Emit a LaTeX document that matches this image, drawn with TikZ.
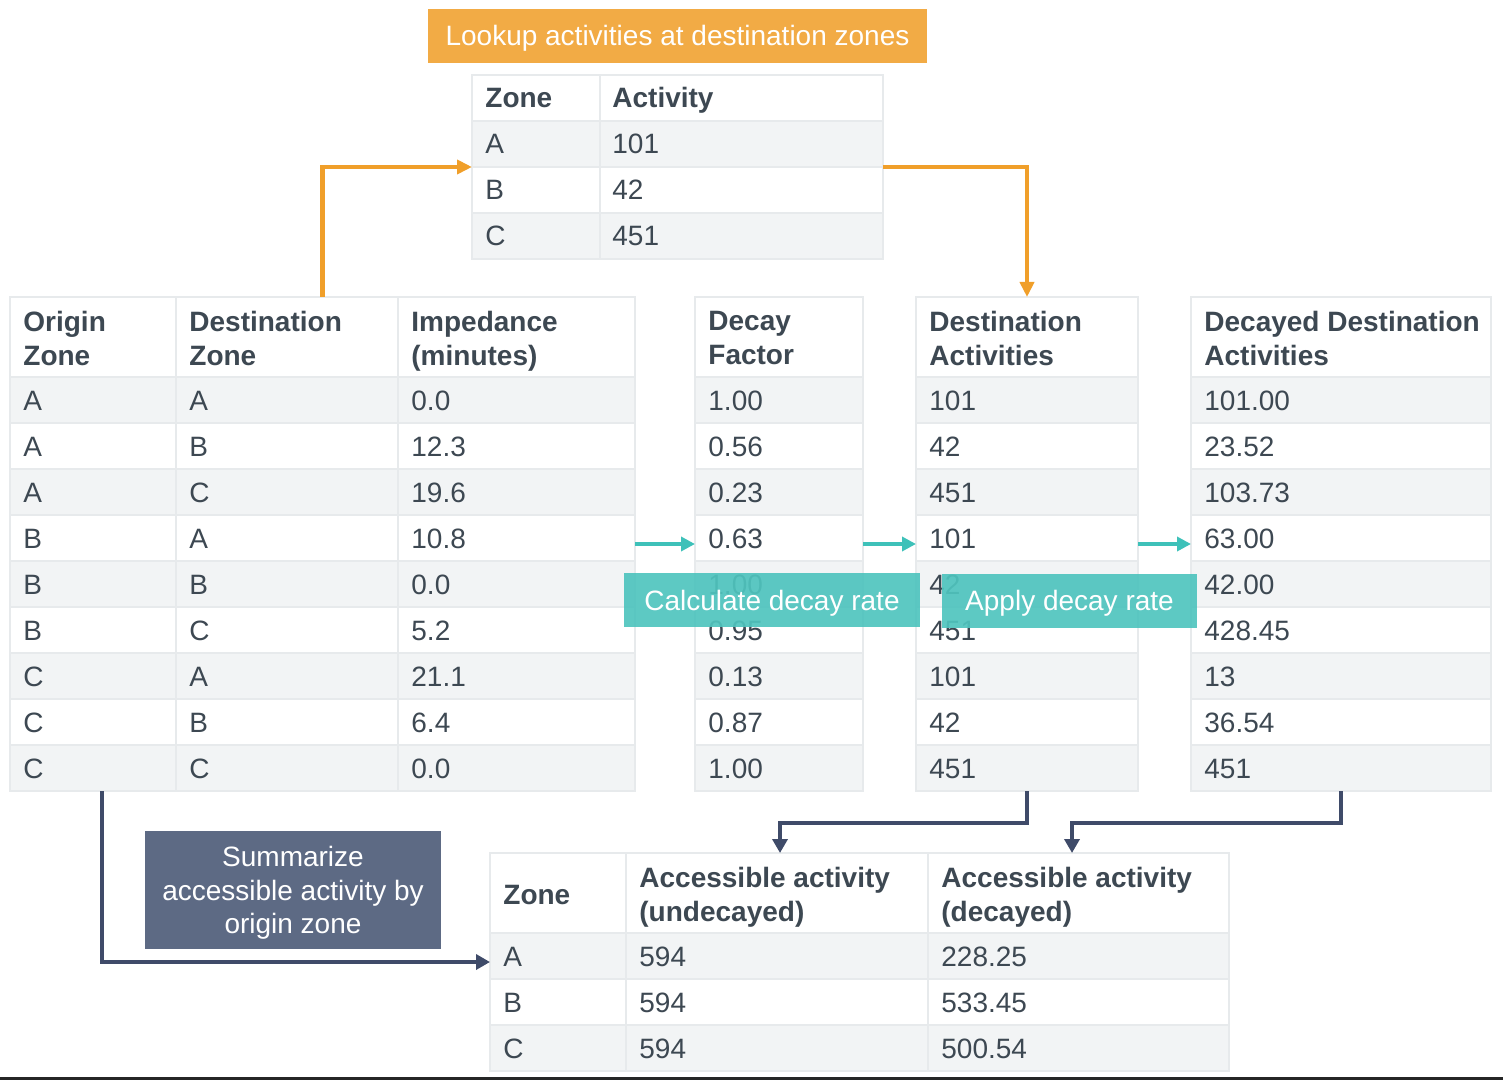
\documentclass[tikz,border=0pt]{standalone}
\usepackage{fontspec}
\setmainfont{Liberation Sans}
\usetikzlibrary{positioning,arrows.meta}

\definecolor{inkgray}{HTML}{3D4852}
\definecolor{rowgray}{HTML}{F2F4F5}
\definecolor{linegray}{HTML}{E7EAEC}
\definecolor{lookuporange}{HTML}{F2AB45}
\definecolor{arroworange}{HTML}{F09F2A}
\definecolor{decayteal}{HTML}{4FC4BE}
\definecolor{arrowteal}{HTML}{3EC1B9}
\definecolor{slatebox}{HTML}{5D6A84}
\definecolor{arrowslate}{HTML}{3F4B69}

% zebra table: name, left, top, right, header height, rows
\newcommand{\datatable}[6]{%
  \foreach \rw in {1,...,#6} {
    \pgfmathtruncatemacro{\isodd}{mod(\rw,2)}
    \ifnum\isodd=1
      \fill[rowgray] (#2,#3+#5+46*\rw-46) rectangle (#4,#3+#5+46*\rw);
    \fi
    \draw[gridline] (#2,#3+#5+46*\rw-46) -- (#4,#3+#5+46*\rw-46);
  }
  \node[tabframe, anchor=north west, minimum width={(#4-#2)*0.5pt},
        minimum height={(#5+46*#6)*0.5pt}] (#1) at (#2,#3) {};
}

\begin{document}
\begin{tikzpicture}[x=0.5pt, y=-0.5pt,
                gridline/.style={draw=linegray, line width=0.6pt},
                tabframe/.style={draw=linegray, line width=0.6pt,
                                 inner sep=0pt, outer sep=0pt},
                txt/.style={text=inkgray, font=\fontsize{14}{17}\selectfont,
                            anchor=west, inner sep=0pt,
                            text height=10pt, text depth=0pt},
                bold/.style={font=\fontsize{14}{17}\selectfont\bfseries},
                hdr/.style={text=inkgray, font=\fontsize{14}{17}\selectfont\bfseries,
                            anchor=north west, inner sep=0pt, align=left},
                lookupbox/.style={fill=lookuporange, text=white, inner sep=0pt,
                                  minimum width=249.5pt, minimum height=27pt,
                                  text height=10pt, text depth=0pt,
                                  font=\fontsize{14}{17}\selectfont},
                tealbox/.style={fill=decayteal, fill opacity=0.92, text opacity=1,
                                text=white, inner sep=0pt, minimum height=27pt,
                                text height=10pt, text depth=0pt,
                                font=\fontsize{14}{17}\selectfont},
                slatebox/.style={fill=slatebox, text=white, inner sep=0pt,
                                 align=center, minimum width=148pt, minimum height=59pt,
                                 text depth=0pt, font=\fontsize{14}{16.8}\selectfont},
                orangearr/.style={draw=arroworange, line width=2.2pt,
                                  -{Triangle[length=7.5pt,width=7pt]}},
                tealarr/.style={draw=arrowteal, line width=2.4pt,
                                -{Triangle[length=7pt,width=7pt]}},
                slatearr/.style={draw=arrowslate, line width=2.4pt,
                                 -{Triangle[length=7pt,width=7.5pt]}}
            ]
                \useasboundingbox (0,0) rectangle (1503,1080);

                % lookup table
                \datatable{lookup}{472}{75}{883}{46}{3}
                \draw[gridline] (600,75) -- (600,259);
                \node[txt, bold] (lk-h1) at (485,98) {Zone};
                \node[txt, bold] (lk-h2) at (612,98) {Activity};
                \foreach \z/\a [count=\i] in {A/101, B/42, C/451} {
                    \node[txt] (lk-z\i) at (485,98+46*\i) {\z};
                    \node[txt] (lk-a\i) at (612,98+46*\i) {\a};
                }
                \node[lookupbox, above=6pt of lookup] (lookuplbl)
                    {Lookup activities at destination zones};

                % zone pairs and derived columns
                \datatable{pairs}{10}{297}{635}{80}{9}
                \draw[gridline] (176,297) -- (176,791);
                \draw[gridline] (398,297) -- (398,791);
                \datatable{decay}{695}{297}{863}{80}{9}
                \datatable{destact}{916}{297}{1138}{80}{9}
                \datatable{decayed}{1191}{297}{1491}{80}{9}

                \node[hdr] (h-orig) at (23,311) {Origin\\Zone};
                \node[hdr] (h-dest) at (189,311) {Destination\\Zone};
                \node[hdr] (h-imp) at (411,311) {Impedance\\(minutes)};
                \node[hdr] (h-fac) at (708,311) {Decay\\Factor};
                \node[hdr] (h-act) at (929,311) {Destination\\Activities};
                \node[hdr] (h-dact) at (1204,311) {Decayed Destination\\Activities};

                \foreach \o/\d/\t/\f/\v/\w [count=\i] in
                    {A/A/0.0/1.00/101/101.00, A/B/12.3/0.56/42/23.52,
                     A/C/19.6/0.23/451/103.73, B/A/10.8/0.63/101/63.00,
                     B/B/0.0/1.00/42/42.00, B/C/5.2/0.95/451/428.45,
                     C/A/21.1/0.13/101/13, C/B/6.4/0.87/42/36.54,
                     C/C/0.0/1.00/451/451} {
                    \node[txt] (orig\i) at (23,354+46*\i) {\o};
                    \node[txt] (dest\i) at (189,354+46*\i) {\d};
                    \node[txt] (imp\i) at (411,354+46*\i) {\t};
                    \node[txt] (fac\i) at (708,354+46*\i) {\f};
                    \node[txt] (act\i) at (929,354+46*\i) {\v};
                    \node[txt] (dact\i) at (1204,354+46*\i) {\w};
                }

                % result table
                \datatable{result}{490}{853}{1229}{80}{3}
                \draw[gridline] (626,853) -- (626,1071);
                \draw[gridline] (928,853) -- (928,1071);
                \node[txt, bold] (r-h1) at (503,894) {Zone};
                \node[hdr] (r-h2) at (639,867) {Accessible activity\\(undecayed)};
                \node[hdr] (r-h3) at (941,867) {Accessible activity\\(decayed)};
                \foreach \z/\u/\c [count=\i] in {A/594/228.25, B/594/533.45, C/594/500.54} {
                    \node[txt] (r-z\i) at (503,910+46*\i) {\z};
                    \node[txt] (r-u\i) at (639,910+46*\i) {\u};
                    \node[txt] (r-c\i) at (941,910+46*\i) {\c};
                }
                \coordinate (undec) at (780,853);
                \coordinate (dec) at (1072,853);

                % arrows
                \draw[orangearr] (pairs.north) |- (lookup.west);
                \draw[orangearr] (lookup.east) -| (destact.north);
                \draw[tealarr] (pairs.east) -- (decay.west);
                \draw[tealarr] (decay.east) -- (destact.west);
                \draw[tealarr] (destact.east) -- (decayed.west);
                \draw[slatearr] ([xshift=46pt]pairs.south west) |- (result.west);
                \draw[slatearr] (destact.south) -- ++(0,32) -| (undec);
                \draw[slatearr] (decayed.south) -- ++(0,32) -| (dec);

                % step labels
                \node[tealbox, minimum width=148pt] (calclbl) at (772,600)
                    {Calculate decay rate};
                \node[tealbox, minimum width=127.5pt] (applylbl) at (1069.5,600.5)
                    {Apply decay rate};
                \node[slatebox] (sumlbl) at (293,890)
                    {Summarize\\accessible activity by\\origin zone};

                \fill[black!85] (0,1077) rectangle (1503,1080);
            \end{tikzpicture}
\end{document}
